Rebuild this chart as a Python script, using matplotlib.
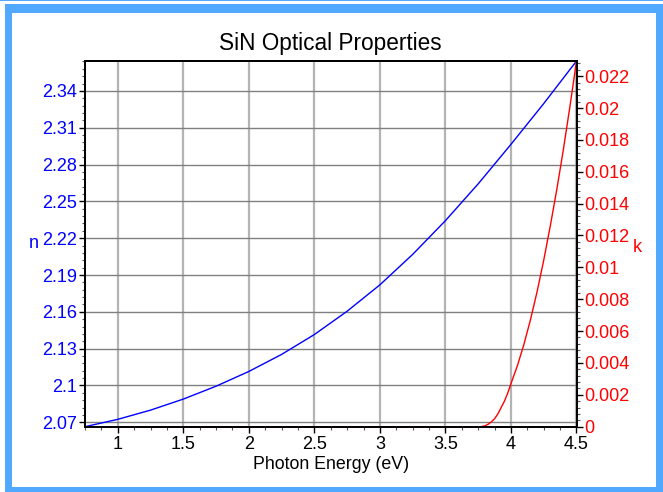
import matplotlib
matplotlib.use("Agg")
import matplotlib.pyplot as plt
from matplotlib.patches import Rectangle
from matplotlib.ticker import MultipleLocator, AutoMinorLocator, FuncFormatter

plt.rcParams["font.family"] = ["Liberation Sans", "DejaVu Sans"]

# refractive index n vs photon energy
energy_n = [0.75, 1.0, 1.25, 1.5, 1.75, 2.0, 2.25, 2.5, 2.75, 3.0,
            3.25, 3.5, 3.75, 4.0, 4.25, 4.5]
n_vals = [2.0664, 2.0724, 2.0799, 2.0889, 2.0994, 2.1114, 2.1253, 2.1415,
          2.1605, 2.1820, 2.2068, 2.2343, 2.2643, 2.2965, 2.3297, 2.3644]

# extinction coefficient k vs photon energy
energy_k = [0.75, 3.77, 3.80, 3.825, 3.85, 3.875, 3.90, 3.925, 3.95, 3.975,
            4.00, 4.05, 4.10, 4.15, 4.20, 4.25, 4.30, 4.35, 4.40, 4.45, 4.50]
k_vals = [0.0, 0.0, 0.00005, 0.00015, 0.0003, 0.0005, 0.0008, 0.0012,
          0.0016, 0.0021, 0.0027, 0.00385, 0.0052, 0.00675, 0.0085, 0.01045,
          0.0126, 0.0149, 0.0174, 0.0201, 0.02295]

W, H = 663, 492
FRAME = "#50a8ff"
BLUE = "#0000ff"
RED = "#ff0000"


def px_rect(fig, x0, y0, x1, y1, color):
    # rectangle given in pixels, origin top-left
    r = Rectangle((x0 / W, 1 - y1 / H), (x1 - x0) / W, (y1 - y0) / H,
                  transform=fig.transFigure, facecolor=color, edgecolor="none",
                  zorder=-10)
    fig.add_artist(r)


fmt = FuncFormatter(lambda v, pos: "%g" % round(v, 6))

fig = plt.figure(figsize=(W / 100, H / 100), dpi=100, facecolor="white")

# blue frame around the chart
px_rect(fig, 0, 0, W, 1.2, FRAME)
px_rect(fig, 5, 4, W, H, FRAME)
px_rect(fig, 12, 13, 655.5, 487, "white")

ax = fig.add_axes([85 / W, 1 - 426.7 / H, (576.5 - 85) / W, (426.7 - 61) / H])
ax2 = ax.twinx()

ax.plot(energy_n, n_vals, color=BLUE, lw=1)
ax2.plot(energy_k, k_vals, color=RED, lw=1)

ax.set_xlim(energy_n[0], energy_n[-1])
ax.set_ylim(min(n_vals), max(n_vals))
ax2.set_ylim(0, max(k_vals))

ax.xaxis.set_major_locator(MultipleLocator(0.5))
ax.xaxis.set_minor_locator(AutoMinorLocator(4))
ax.yaxis.set_major_locator(MultipleLocator(0.03))
ax.yaxis.set_minor_locator(AutoMinorLocator(5))
ax2.yaxis.set_major_locator(MultipleLocator(0.002))
ax2.yaxis.set_minor_locator(AutoMinorLocator(5))
for a in (ax.xaxis, ax.yaxis, ax2.yaxis):
    a.set_major_formatter(fmt)

ax.tick_params(axis="x", which="major", length=4, width=1, pad=3, labelsize=13)
ax.tick_params(axis="x", which="minor", length=2, width=0.8, color="#555555")
ax.tick_params(axis="y", which="major", length=4, width=1, pad=1.5,
               labelsize=13, labelcolor=BLUE)
ax.tick_params(axis="y", which="minor", length=2, width=0.8, color="#555555")
ax2.tick_params(axis="y", which="major", length=4, width=1, pad=1.5,
                labelsize=13, labelcolor=RED)
ax2.tick_params(axis="y", which="minor", length=2, width=0.8, color="#555555")

ax.grid(True, axis="x", which="major", color="#b4b4b4", lw=1.6)
ax.grid(True, axis="y", which="major", color="#808080", lw=1)
ax.set_axisbelow(True)

for s in list(ax.spines.values()) + list(ax2.spines.values()):
    s.set_color("black")
    s.set_linewidth(1.4)

ax.set_title("SiN Optical Properties", fontsize=16.3, pad=8)
ax.set_xlabel("Photon Energy (eV)", fontsize=12.8, labelpad=2)
ax.set_ylabel("n", fontsize=13, color=BLUE, rotation=0, va="center", ha="center")
ax.yaxis.set_label_coords(-0.105, 0.5)
ax2.set_ylabel("k", fontsize=13, color=RED, rotation=0, va="center", ha="center")
ax2.yaxis.set_label_coords(1.123, 0.49)

fig.savefig("out.png", dpi=100, facecolor="white")
